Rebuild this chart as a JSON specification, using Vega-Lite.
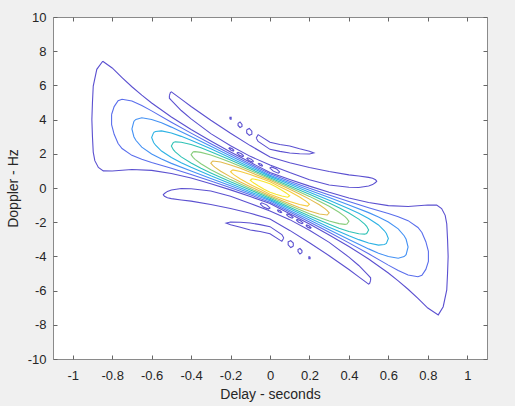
{
"$schema":"https://vega.github.io/schema/vega-lite/v6.json",
"width":434,"height":342,
"autosize":{"type":"none"},
"padding":{"left":53,"top":17,"right":28,"bottom":47},
"background":"#f0f0f0",
"config":{"view":{"fill":"white","stroke":"#8a8a8a","strokeWidth":1},"font":"Liberation Sans"},
"data":{"values":[
{"c":"m1","l":1,"x":-0.848,"y":7.41},{"c":"m1","l":1,"x":-0.8,"y":7.02},{"c":"m1","l":1,"x":-0.75,"y":6.46},{"c":"m1","l":1,"x":-0.7,"y":5.92},{"c":"m1","l":1,"x":-0.65,"y":5.43},{"c":"m1","l":1,"x":-0.6,"y":4.97},{"c":"m1","l":1,"x":-0.5,"y":4.15},{"c":"m1","l":1,"x":-0.4,"y":3.42},{"c":"m1","l":1,"x":-0.3,"y":2.75},{"c":"m1","l":1,"x":-0.2,"y":2.11},{"c":"m1","l":1,"x":-0.1,"y":1.5},{"c":"m1","l":1,"x":0,"y":0.91},{"c":"m1","l":1,"x":0.1,"y":0.5},{"c":"m1","l":1,"x":0.2,"y":0.11},{"c":"m1","l":1,"x":0.3,"y":-0.25},{"c":"m1","l":1,"x":0.4,"y":-0.58},{"c":"m1","l":1,"x":0.5,"y":-0.85},{"c":"m1","l":1,"x":0.6,"y":-1.03},{"c":"m1","l":1,"x":0.7,"y":-1.08},{"c":"m1","l":1,"x":0.8,"y":-0.99},{"c":"m1","l":1,"x":0.845,"y":-1.0},{"c":"m1","l":1,"x":0.87,"y":-1.2},{"c":"m1","l":1,"x":0.888,"y":-1.6},{"c":"m1","l":1,"x":0.896,"y":-2.1},{"c":"m1","l":1,"x":0.9,"y":-3.0},{"c":"m1","l":1,"x":0.903,"y":-4.0},{"c":"m1","l":1,"x":0.9,"y":-5.0},{"c":"m1","l":1,"x":0.896,"y":-5.96},{"c":"m1","l":1,"x":0.878,"y":-6.94},{"c":"m1","l":1,"x":0.853,"y":-7.42},{"c":"m1","l":1,"x":0.8,"y":-7.02},{"c":"m1","l":1,"x":0.75,"y":-6.46},{"c":"m1","l":1,"x":0.7,"y":-5.92},{"c":"m1","l":1,"x":0.65,"y":-5.43},{"c":"m1","l":1,"x":0.6,"y":-4.97},{"c":"m1","l":1,"x":0.5,"y":-4.15},{"c":"m1","l":1,"x":0.4,"y":-3.42},{"c":"m1","l":1,"x":0.3,"y":-2.75},{"c":"m1","l":1,"x":0.2,"y":-2.11},{"c":"m1","l":1,"x":0.1,"y":-1.5},{"c":"m1","l":1,"x":0,"y":-0.91},{"c":"m1","l":1,"x":-0.1,"y":-0.5},{"c":"m1","l":1,"x":-0.2,"y":-0.11},{"c":"m1","l":1,"x":-0.3,"y":0.25},{"c":"m1","l":1,"x":-0.4,"y":0.58},{"c":"m1","l":1,"x":-0.5,"y":0.85},{"c":"m1","l":1,"x":-0.6,"y":1.03},{"c":"m1","l":1,"x":-0.7,"y":1.08},{"c":"m1","l":1,"x":-0.8,"y":0.99},{"c":"m1","l":1,"x":-0.845,"y":1.0},{"c":"m1","l":1,"x":-0.87,"y":1.2},{"c":"m1","l":1,"x":-0.888,"y":1.6},{"c":"m1","l":1,"x":-0.896,"y":2.1},{"c":"m1","l":1,"x":-0.9,"y":3.0},{"c":"m1","l":1,"x":-0.903,"y":4.0},{"c":"m1","l":1,"x":-0.9,"y":5.0},{"c":"m1","l":1,"x":-0.896,"y":5.96},{"c":"m1","l":1,"x":-0.878,"y":6.94},{"c":"m1","l":1,"x":-0.848,"y":7.41},
{"c":"m2","l":2,"x":-0.803,"y":4.3},{"c":"m2","l":2,"x":-0.79,"y":4.76},{"c":"m2","l":2,"x":-0.77,"y":5.1},{"c":"m2","l":2,"x":-0.75,"y":5.19},{"c":"m2","l":2,"x":-0.7,"y":5.09},{"c":"m2","l":2,"x":-0.65,"y":4.82},{"c":"m2","l":2,"x":-0.6,"y":4.51},{"c":"m2","l":2,"x":-0.5,"y":3.85},{"c":"m2","l":2,"x":-0.4,"y":3.21},{"c":"m2","l":2,"x":-0.3,"y":2.59},{"c":"m2","l":2,"x":-0.2,"y":1.99},{"c":"m2","l":2,"x":-0.1,"y":1.4},{"c":"m2","l":2,"x":0,"y":0.83},{"c":"m2","l":2,"x":0.1,"y":0.4},{"c":"m2","l":2,"x":0.2,"y":-0.02},{"c":"m2","l":2,"x":0.3,"y":-0.41},{"c":"m2","l":2,"x":0.4,"y":-0.79},{"c":"m2","l":2,"x":0.5,"y":-1.15},{"c":"m2","l":2,"x":0.6,"y":-1.49},{"c":"m2","l":2,"x":0.65,"y":-1.68},{"c":"m2","l":2,"x":0.7,"y":-1.91},{"c":"m2","l":2,"x":0.75,"y":-2.31},{"c":"m2","l":2,"x":0.77,"y":-2.6},{"c":"m2","l":2,"x":0.79,"y":-3.14},{"c":"m2","l":2,"x":0.803,"y":-3.7},{"c":"m2","l":2,"x":0.803,"y":-4.3},{"c":"m2","l":2,"x":0.79,"y":-4.76},{"c":"m2","l":2,"x":0.77,"y":-5.1},{"c":"m2","l":2,"x":0.75,"y":-5.19},{"c":"m2","l":2,"x":0.7,"y":-5.09},{"c":"m2","l":2,"x":0.65,"y":-4.82},{"c":"m2","l":2,"x":0.6,"y":-4.51},{"c":"m2","l":2,"x":0.5,"y":-3.85},{"c":"m2","l":2,"x":0.4,"y":-3.21},{"c":"m2","l":2,"x":0.3,"y":-2.59},{"c":"m2","l":2,"x":0.2,"y":-1.99},{"c":"m2","l":2,"x":0.1,"y":-1.4},{"c":"m2","l":2,"x":0,"y":-0.83},{"c":"m2","l":2,"x":-0.1,"y":-0.4},{"c":"m2","l":2,"x":-0.2,"y":0.02},{"c":"m2","l":2,"x":-0.3,"y":0.41},{"c":"m2","l":2,"x":-0.4,"y":0.79},{"c":"m2","l":2,"x":-0.5,"y":1.15},{"c":"m2","l":2,"x":-0.6,"y":1.49},{"c":"m2","l":2,"x":-0.65,"y":1.68},{"c":"m2","l":2,"x":-0.7,"y":1.91},{"c":"m2","l":2,"x":-0.75,"y":2.31},{"c":"m2","l":2,"x":-0.77,"y":2.6},{"c":"m2","l":2,"x":-0.79,"y":3.14},{"c":"m2","l":2,"x":-0.803,"y":3.7},{"c":"m2","l":2,"x":-0.803,"y":4.3},
{"c":"m3","l":3,"x":-0.69,"y":3.9},{"c":"m3","l":3,"x":-0.68,"y":4.01},{"c":"m3","l":3,"x":-0.65,"y":4.11},{"c":"m3","l":3,"x":-0.6,"y":4.01},{"c":"m3","l":3,"x":-0.55,"y":3.81},{"c":"m3","l":3,"x":-0.5,"y":3.56},{"c":"m3","l":3,"x":-0.4,"y":3.01},{"c":"m3","l":3,"x":-0.3,"y":2.44},{"c":"m3","l":3,"x":-0.2,"y":1.87},{"c":"m3","l":3,"x":-0.1,"y":1.31},{"c":"m3","l":3,"x":0,"y":0.75},{"c":"m3","l":3,"x":0.1,"y":0.31},{"c":"m3","l":3,"x":0.2,"y":-0.13},{"c":"m3","l":3,"x":0.3,"y":-0.56},{"c":"m3","l":3,"x":0.4,"y":-0.99},{"c":"m3","l":3,"x":0.5,"y":-1.44},{"c":"m3","l":3,"x":0.55,"y":-1.69},{"c":"m3","l":3,"x":0.6,"y":-1.99},{"c":"m3","l":3,"x":0.65,"y":-2.39},{"c":"m3","l":3,"x":0.68,"y":-2.79},{"c":"m3","l":3,"x":0.69,"y":-3.0},{"c":"m3","l":3,"x":0.7,"y":-3.45},{"c":"m3","l":3,"x":0.69,"y":-3.9},{"c":"m3","l":3,"x":0.68,"y":-4.01},{"c":"m3","l":3,"x":0.65,"y":-4.11},{"c":"m3","l":3,"x":0.6,"y":-4.01},{"c":"m3","l":3,"x":0.55,"y":-3.81},{"c":"m3","l":3,"x":0.5,"y":-3.56},{"c":"m3","l":3,"x":0.4,"y":-3.01},{"c":"m3","l":3,"x":0.3,"y":-2.44},{"c":"m3","l":3,"x":0.2,"y":-1.87},{"c":"m3","l":3,"x":0.1,"y":-1.31},{"c":"m3","l":3,"x":0,"y":-0.75},{"c":"m3","l":3,"x":-0.1,"y":-0.31},{"c":"m3","l":3,"x":-0.2,"y":0.13},{"c":"m3","l":3,"x":-0.3,"y":0.56},{"c":"m3","l":3,"x":-0.4,"y":0.99},{"c":"m3","l":3,"x":-0.5,"y":1.44},{"c":"m3","l":3,"x":-0.55,"y":1.69},{"c":"m3","l":3,"x":-0.6,"y":1.99},{"c":"m3","l":3,"x":-0.65,"y":2.39},{"c":"m3","l":3,"x":-0.68,"y":2.79},{"c":"m3","l":3,"x":-0.69,"y":3.0},{"c":"m3","l":3,"x":-0.7,"y":3.45},{"c":"m3","l":3,"x":-0.69,"y":3.9},
{"c":"m4","l":4,"x":-0.59,"y":3.24},{"c":"m4","l":4,"x":-0.58,"y":3.3},{"c":"m4","l":4,"x":-0.55,"y":3.34},{"c":"m4","l":4,"x":-0.5,"y":3.22},{"c":"m4","l":4,"x":-0.45,"y":3.02},{"c":"m4","l":4,"x":-0.4,"y":2.79},{"c":"m4","l":4,"x":-0.3,"y":2.29},{"c":"m4","l":4,"x":-0.2,"y":1.75},{"c":"m4","l":4,"x":-0.1,"y":1.22},{"c":"m4","l":4,"x":0,"y":0.68},{"c":"m4","l":4,"x":0.1,"y":0.22},{"c":"m4","l":4,"x":0.2,"y":-0.25},{"c":"m4","l":4,"x":0.3,"y":-0.71},{"c":"m4","l":4,"x":0.4,"y":-1.21},{"c":"m4","l":4,"x":0.45,"y":-1.48},{"c":"m4","l":4,"x":0.5,"y":-1.78},{"c":"m4","l":4,"x":0.55,"y":-2.16},{"c":"m4","l":4,"x":0.58,"y":-2.5},{"c":"m4","l":4,"x":0.59,"y":-2.66},{"c":"m4","l":4,"x":0.6,"y":-2.95},{"c":"m4","l":4,"x":0.59,"y":-3.24},{"c":"m4","l":4,"x":0.58,"y":-3.3},{"c":"m4","l":4,"x":0.55,"y":-3.34},{"c":"m4","l":4,"x":0.5,"y":-3.22},{"c":"m4","l":4,"x":0.45,"y":-3.02},{"c":"m4","l":4,"x":0.4,"y":-2.79},{"c":"m4","l":4,"x":0.3,"y":-2.29},{"c":"m4","l":4,"x":0.2,"y":-1.75},{"c":"m4","l":4,"x":0.1,"y":-1.22},{"c":"m4","l":4,"x":0,"y":-0.68},{"c":"m4","l":4,"x":-0.1,"y":-0.22},{"c":"m4","l":4,"x":-0.2,"y":0.25},{"c":"m4","l":4,"x":-0.3,"y":0.71},{"c":"m4","l":4,"x":-0.4,"y":1.21},{"c":"m4","l":4,"x":-0.45,"y":1.48},{"c":"m4","l":4,"x":-0.5,"y":1.78},{"c":"m4","l":4,"x":-0.55,"y":2.16},{"c":"m4","l":4,"x":-0.58,"y":2.5},{"c":"m4","l":4,"x":-0.59,"y":2.66},{"c":"m4","l":4,"x":-0.6,"y":2.95},{"c":"m4","l":4,"x":-0.59,"y":3.24},
{"c":"m5","l":5,"x":-0.49,"y":2.66},{"c":"m5","l":5,"x":-0.48,"y":2.7},{"c":"m5","l":5,"x":-0.45,"y":2.68},{"c":"m5","l":5,"x":-0.4,"y":2.54},{"c":"m5","l":5,"x":-0.35,"y":2.35},{"c":"m5","l":5,"x":-0.3,"y":2.12},{"c":"m5","l":5,"x":-0.2,"y":1.64},{"c":"m5","l":5,"x":-0.1,"y":1.12},{"c":"m5","l":5,"x":0,"y":0.6},{"c":"m5","l":5,"x":0.1,"y":0.12},{"c":"m5","l":5,"x":0.2,"y":-0.36},{"c":"m5","l":5,"x":0.3,"y":-0.88},{"c":"m5","l":5,"x":0.35,"y":-1.15},{"c":"m5","l":5,"x":0.4,"y":-1.46},{"c":"m5","l":5,"x":0.45,"y":-1.82},{"c":"m5","l":5,"x":0.48,"y":-2.11},{"c":"m5","l":5,"x":0.49,"y":-2.24},{"c":"m5","l":5,"x":0.5,"y":-2.45},{"c":"m5","l":5,"x":0.49,"y":-2.66},{"c":"m5","l":5,"x":0.48,"y":-2.7},{"c":"m5","l":5,"x":0.45,"y":-2.68},{"c":"m5","l":5,"x":0.4,"y":-2.54},{"c":"m5","l":5,"x":0.35,"y":-2.35},{"c":"m5","l":5,"x":0.3,"y":-2.12},{"c":"m5","l":5,"x":0.2,"y":-1.64},{"c":"m5","l":5,"x":0.1,"y":-1.12},{"c":"m5","l":5,"x":0,"y":-0.6},{"c":"m5","l":5,"x":-0.1,"y":-0.12},{"c":"m5","l":5,"x":-0.2,"y":0.36},{"c":"m5","l":5,"x":-0.3,"y":0.88},{"c":"m5","l":5,"x":-0.35,"y":1.15},{"c":"m5","l":5,"x":-0.4,"y":1.46},{"c":"m5","l":5,"x":-0.45,"y":1.82},{"c":"m5","l":5,"x":-0.48,"y":2.11},{"c":"m5","l":5,"x":-0.49,"y":2.24},{"c":"m5","l":5,"x":-0.5,"y":2.45},{"c":"m5","l":5,"x":-0.49,"y":2.66},
{"c":"m6","l":6,"x":-0.39,"y":2.11},{"c":"m6","l":6,"x":-0.38,"y":2.125},{"c":"m6","l":6,"x":-0.35,"y":2.085},{"c":"m6","l":6,"x":-0.3,"y":1.93},{"c":"m6","l":6,"x":-0.25,"y":1.73},{"c":"m6","l":6,"x":-0.2,"y":1.51},{"c":"m6","l":6,"x":-0.1,"y":1.03},{"c":"m6","l":6,"x":0,"y":0.53},{"c":"m6","l":6,"x":0.1,"y":0.03},{"c":"m6","l":6,"x":0.2,"y":-0.49},{"c":"m6","l":6,"x":0.25,"y":-0.77},{"c":"m6","l":6,"x":0.3,"y":-1.07},{"c":"m6","l":6,"x":0.35,"y":-1.415},{"c":"m6","l":6,"x":0.38,"y":-1.675},{"c":"m6","l":6,"x":0.39,"y":-1.79},{"c":"m6","l":6,"x":0.4,"y":-1.95},{"c":"m6","l":6,"x":0.39,"y":-2.11},{"c":"m6","l":6,"x":0.38,"y":-2.125},{"c":"m6","l":6,"x":0.35,"y":-2.085},{"c":"m6","l":6,"x":0.3,"y":-1.93},{"c":"m6","l":6,"x":0.25,"y":-1.73},{"c":"m6","l":6,"x":0.2,"y":-1.51},{"c":"m6","l":6,"x":0.1,"y":-1.03},{"c":"m6","l":6,"x":0,"y":-0.53},{"c":"m6","l":6,"x":-0.1,"y":-0.03},{"c":"m6","l":6,"x":-0.2,"y":0.49},{"c":"m6","l":6,"x":-0.25,"y":0.77},{"c":"m6","l":6,"x":-0.3,"y":1.07},{"c":"m6","l":6,"x":-0.35,"y":1.415},{"c":"m6","l":6,"x":-0.38,"y":1.675},{"c":"m6","l":6,"x":-0.39,"y":1.79},{"c":"m6","l":6,"x":-0.4,"y":1.95},{"c":"m6","l":6,"x":-0.39,"y":2.11},
{"c":"m7","l":7,"x":-0.29,"y":1.58},{"c":"m7","l":7,"x":-0.25,"y":1.52},{"c":"m7","l":7,"x":-0.2,"y":1.35},{"c":"m7","l":7,"x":-0.15,"y":1.15},{"c":"m7","l":7,"x":-0.1,"y":0.92},{"c":"m7","l":7,"x":0,"y":0.45},{"c":"m7","l":7,"x":0.1,"y":-0.08},{"c":"m7","l":7,"x":0.15,"y":-0.35},{"c":"m7","l":7,"x":0.2,"y":-0.65},{"c":"m7","l":7,"x":0.25,"y":-0.98},{"c":"m7","l":7,"x":0.28,"y":-1.22},{"c":"m7","l":7,"x":0.29,"y":-1.32},{"c":"m7","l":7,"x":0.3,"y":-1.45},{"c":"m7","l":7,"x":0.29,"y":-1.58},{"c":"m7","l":7,"x":0.25,"y":-1.52},{"c":"m7","l":7,"x":0.2,"y":-1.35},{"c":"m7","l":7,"x":0.15,"y":-1.15},{"c":"m7","l":7,"x":0.1,"y":-0.92},{"c":"m7","l":7,"x":0,"y":-0.45},{"c":"m7","l":7,"x":-0.1,"y":0.08},{"c":"m7","l":7,"x":-0.15,"y":0.35},{"c":"m7","l":7,"x":-0.2,"y":0.65},{"c":"m7","l":7,"x":-0.25,"y":0.98},{"c":"m7","l":7,"x":-0.28,"y":1.22},{"c":"m7","l":7,"x":-0.29,"y":1.32},{"c":"m7","l":7,"x":-0.3,"y":1.45},{"c":"m7","l":7,"x":-0.29,"y":1.58},
{"c":"m8","l":8,"x":-0.19,"y":1.06},{"c":"m8","l":8,"x":-0.15,"y":0.97},{"c":"m8","l":8,"x":-0.1,"y":0.79},{"c":"m8","l":8,"x":-0.05,"y":0.58},{"c":"m8","l":8,"x":0,"y":0.36},{"c":"m8","l":8,"x":0.05,"y":0.08},{"c":"m8","l":8,"x":0.1,"y":-0.21},{"c":"m8","l":8,"x":0.15,"y":-0.53},{"c":"m8","l":8,"x":0.18,"y":-0.75},{"c":"m8","l":8,"x":0.19,"y":-0.84},{"c":"m8","l":8,"x":0.2,"y":-0.95},{"c":"m8","l":8,"x":0.19,"y":-1.06},{"c":"m8","l":8,"x":0.15,"y":-0.97},{"c":"m8","l":8,"x":0.1,"y":-0.79},{"c":"m8","l":8,"x":0.05,"y":-0.58},{"c":"m8","l":8,"x":0,"y":-0.36},{"c":"m8","l":8,"x":-0.05,"y":-0.08},{"c":"m8","l":8,"x":-0.1,"y":0.21},{"c":"m8","l":8,"x":-0.15,"y":0.53},{"c":"m8","l":8,"x":-0.18,"y":0.75},{"c":"m8","l":8,"x":-0.19,"y":0.84},{"c":"m8","l":8,"x":-0.2,"y":0.95},{"c":"m8","l":8,"x":-0.19,"y":1.06},
{"c":"m9","l":9,"x":-0.09,"y":0.54},{"c":"m9","l":9,"x":-0.06,"y":0.47},{"c":"m9","l":9,"x":-0.03,"y":0.37},{"c":"m9","l":9,"x":0,"y":0.25},{"c":"m9","l":9,"x":0.03,"y":0.07},{"c":"m9","l":9,"x":0.06,"y":-0.13},{"c":"m9","l":9,"x":0.08,"y":-0.28},{"c":"m9","l":9,"x":0.09,"y":-0.36},{"c":"m9","l":9,"x":0.1,"y":-0.45},{"c":"m9","l":9,"x":0.09,"y":-0.54},{"c":"m9","l":9,"x":0.06,"y":-0.47},{"c":"m9","l":9,"x":0.03,"y":-0.37},{"c":"m9","l":9,"x":0,"y":-0.25},{"c":"m9","l":9,"x":-0.03,"y":-0.07},{"c":"m9","l":9,"x":-0.06,"y":0.13},{"c":"m9","l":9,"x":-0.08,"y":0.28},{"c":"m9","l":9,"x":-0.09,"y":0.36},{"c":"m9","l":9,"x":-0.1,"y":0.45},{"c":"m9","l":9,"x":-0.09,"y":0.54},
{"c":"s1u","l":1,"x":-0.51,"y":5.4},{"c":"s1u","l":1,"x":-0.505,"y":5.58},{"c":"s1u","l":1,"x":-0.5,"y":5.62},{"c":"s1u","l":1,"x":-0.45,"y":5.2},{"c":"s1u","l":1,"x":-0.4,"y":4.77},{"c":"s1u","l":1,"x":-0.3,"y":3.96},{"c":"s1u","l":1,"x":-0.2,"y":3.2},{"c":"s1u","l":1,"x":-0.1,"y":2.48},{"c":"s1u","l":1,"x":0,"y":1.81},{"c":"s1u","l":1,"x":0.1,"y":1.48},{"c":"s1u","l":1,"x":0.2,"y":1.2},{"c":"s1u","l":1,"x":0.3,"y":0.96},{"c":"s1u","l":1,"x":0.4,"y":0.77},{"c":"s1u","l":1,"x":0.45,"y":0.7},{"c":"s1u","l":1,"x":0.5,"y":0.62},{"c":"s1u","l":1,"x":0.52,"y":0.57},{"c":"s1u","l":1,"x":0.535,"y":0.48},{"c":"s1u","l":1,"x":0.541,"y":0.4},{"c":"s1u","l":1,"x":0.535,"y":0.32},{"c":"s1u","l":1,"x":0.52,"y":0.2},{"c":"s1u","l":1,"x":0.5,"y":0.12},{"c":"s1u","l":1,"x":0.45,"y":0.03},{"c":"s1u","l":1,"x":0.4,"y":0.04},{"c":"s1u","l":1,"x":0.3,"y":0.18},{"c":"s1u","l":1,"x":0.2,"y":0.48},{"c":"s1u","l":1,"x":0.1,"y":0.9},{"c":"s1u","l":1,"x":0,"y":1.35},{"c":"s1u","l":1,"x":-0.1,"y":1.85},{"c":"s1u","l":1,"x":-0.2,"y":2.47},{"c":"s1u","l":1,"x":-0.3,"y":3.18},{"c":"s1u","l":1,"x":-0.4,"y":4.04},{"c":"s1u","l":1,"x":-0.45,"y":4.53},{"c":"s1u","l":1,"x":-0.5,"y":5.12},{"c":"s1u","l":1,"x":-0.51,"y":5.25},{"c":"s1u","l":1,"x":-0.51,"y":5.4},
{"c":"s1l","l":1,"x":0.51,"y":-5.4},{"c":"s1l","l":1,"x":0.505,"y":-5.58},{"c":"s1l","l":1,"x":0.5,"y":-5.62},{"c":"s1l","l":1,"x":0.45,"y":-5.2},{"c":"s1l","l":1,"x":0.4,"y":-4.77},{"c":"s1l","l":1,"x":0.3,"y":-3.96},{"c":"s1l","l":1,"x":0.2,"y":-3.2},{"c":"s1l","l":1,"x":0.1,"y":-2.48},{"c":"s1l","l":1,"x":0,"y":-1.81},{"c":"s1l","l":1,"x":-0.1,"y":-1.48},{"c":"s1l","l":1,"x":-0.2,"y":-1.2},{"c":"s1l","l":1,"x":-0.3,"y":-0.96},{"c":"s1l","l":1,"x":-0.4,"y":-0.77},{"c":"s1l","l":1,"x":-0.45,"y":-0.7},{"c":"s1l","l":1,"x":-0.5,"y":-0.62},{"c":"s1l","l":1,"x":-0.52,"y":-0.57},{"c":"s1l","l":1,"x":-0.535,"y":-0.48},{"c":"s1l","l":1,"x":-0.541,"y":-0.4},{"c":"s1l","l":1,"x":-0.535,"y":-0.32},{"c":"s1l","l":1,"x":-0.52,"y":-0.2},{"c":"s1l","l":1,"x":-0.5,"y":-0.12},{"c":"s1l","l":1,"x":-0.45,"y":-0.03},{"c":"s1l","l":1,"x":-0.4,"y":-0.04},{"c":"s1l","l":1,"x":-0.3,"y":-0.18},{"c":"s1l","l":1,"x":-0.2,"y":-0.48},{"c":"s1l","l":1,"x":-0.1,"y":-0.9},{"c":"s1l","l":1,"x":0,"y":-1.35},{"c":"s1l","l":1,"x":0.1,"y":-1.85},{"c":"s1l","l":1,"x":0.2,"y":-2.47},{"c":"s1l","l":1,"x":0.3,"y":-3.18},{"c":"s1l","l":1,"x":0.4,"y":-4.04},{"c":"s1l","l":1,"x":0.45,"y":-4.53},{"c":"s1l","l":1,"x":0.5,"y":-5.12},{"c":"s1l","l":1,"x":0.51,"y":-5.25},{"c":"s1l","l":1,"x":0.51,"y":-5.4},
{"c":"s2u","l":1,"x":-0.07,"y":2.92},{"c":"s2u","l":1,"x":-0.06,"y":3.12},{"c":"s2u","l":1,"x":0,"y":2.68},{"c":"s2u","l":1,"x":0.05,"y":2.54},{"c":"s2u","l":1,"x":0.1,"y":2.46},{"c":"s2u","l":1,"x":0.15,"y":2.29},{"c":"s2u","l":1,"x":0.2,"y":2.15},{"c":"s2u","l":1,"x":0.222,"y":2.05},{"c":"s2u","l":1,"x":0.2,"y":1.99},{"c":"s2u","l":1,"x":0.15,"y":2.0},{"c":"s2u","l":1,"x":0.1,"y":2.05},{"c":"s2u","l":1,"x":0.05,"y":2.14},{"c":"s2u","l":1,"x":0,"y":2.26},{"c":"s2u","l":1,"x":-0.06,"y":2.72},{"c":"s2u","l":1,"x":-0.07,"y":2.92},
{"c":"s2l","l":1,"x":0.07,"y":-2.92},{"c":"s2l","l":1,"x":0.06,"y":-3.12},{"c":"s2l","l":1,"x":0,"y":-2.68},{"c":"s2l","l":1,"x":-0.05,"y":-2.54},{"c":"s2l","l":1,"x":-0.1,"y":-2.46},{"c":"s2l","l":1,"x":-0.15,"y":-2.29},{"c":"s2l","l":1,"x":-0.2,"y":-2.15},{"c":"s2l","l":1,"x":-0.222,"y":-2.05},{"c":"s2l","l":1,"x":-0.2,"y":-1.99},{"c":"s2l","l":1,"x":-0.15,"y":-2.0},{"c":"s2l","l":1,"x":-0.1,"y":-2.05},{"c":"s2l","l":1,"x":-0.05,"y":-2.14},{"c":"s2l","l":1,"x":0,"y":-2.26},{"c":"s2l","l":1,"x":0.06,"y":-2.72},{"c":"s2l","l":1,"x":0.07,"y":-2.92},
{"c":"d1","l":1,"x":-0.203,"y":4.02},{"c":"d1","l":1,"x":-0.197,"y":4.02},{"c":"d1","l":1,"x":-0.197,"y":4.14},{"c":"d1","l":1,"x":-0.203,"y":4.14},{"c":"d1","l":1,"x":-0.203,"y":4.02},
{"c":"d2","l":1,"x":-0.162,"y":3.78},{"c":"d2","l":1,"x":-0.152,"y":3.86},{"c":"d2","l":1,"x":-0.142,"y":3.72},{"c":"d2","l":1,"x":-0.142,"y":3.6},{"c":"d2","l":1,"x":-0.152,"y":3.54},{"c":"d2","l":1,"x":-0.162,"y":3.66},{"c":"d2","l":1,"x":-0.162,"y":3.78},
{"c":"d3","l":1,"x":-0.118,"y":3.4},{"c":"d3","l":1,"x":-0.105,"y":3.48},{"c":"d3","l":1,"x":-0.092,"y":3.32},{"c":"d3","l":1,"x":-0.092,"y":3.15},{"c":"d3","l":1,"x":-0.105,"y":3.08},{"c":"d3","l":1,"x":-0.118,"y":3.22},{"c":"d3","l":1,"x":-0.118,"y":3.4},
{"c":"d4","l":1,"x":0.203,"y":-4.02},{"c":"d4","l":1,"x":0.197,"y":-4.02},{"c":"d4","l":1,"x":0.197,"y":-4.14},{"c":"d4","l":1,"x":0.203,"y":-4.14},{"c":"d4","l":1,"x":0.203,"y":-4.02},
{"c":"d5","l":1,"x":0.162,"y":-3.78},{"c":"d5","l":1,"x":0.152,"y":-3.86},{"c":"d5","l":1,"x":0.142,"y":-3.72},{"c":"d5","l":1,"x":0.142,"y":-3.6},{"c":"d5","l":1,"x":0.152,"y":-3.54},{"c":"d5","l":1,"x":0.162,"y":-3.66},{"c":"d5","l":1,"x":0.162,"y":-3.78},
{"c":"d6","l":1,"x":0.118,"y":-3.4},{"c":"d6","l":1,"x":0.105,"y":-3.48},{"c":"d6","l":1,"x":0.092,"y":-3.32},{"c":"d6","l":1,"x":0.092,"y":-3.15},{"c":"d6","l":1,"x":0.105,"y":-3.08},{"c":"d6","l":1,"x":0.118,"y":-3.22},{"c":"d6","l":1,"x":0.118,"y":-3.4},
{"c":"e1","l":1,"x":-0.182,"y":2.197},{"c":"e1","l":1,"x":-0.191,"y":2.294},{"c":"e1","l":1,"x":-0.204,"y":2.357},{"c":"e1","l":1,"x":-0.208,"y":2.323},{"c":"e1","l":1,"x":-0.199,"y":2.226},{"c":"e1","l":1,"x":-0.186,"y":2.163},{"c":"e1","l":1,"x":-0.182,"y":2.197},
{"c":"e2","l":1,"x":-0.133,"y":1.879},{"c":"e2","l":1,"x":-0.145,"y":2.004},{"c":"e2","l":1,"x":-0.162,"y":2.085},{"c":"e2","l":1,"x":-0.167,"y":2.041},{"c":"e2","l":1,"x":-0.155,"y":1.916},{"c":"e2","l":1,"x":-0.138,"y":1.835},{"c":"e2","l":1,"x":-0.133,"y":1.879},
{"c":"e3","l":1,"x":-0.083,"y":1.559},{"c":"e3","l":1,"x":-0.095,"y":1.684},{"c":"e3","l":1,"x":-0.112,"y":1.765},{"c":"e3","l":1,"x":-0.117,"y":1.721},{"c":"e3","l":1,"x":-0.105,"y":1.596},{"c":"e3","l":1,"x":-0.088,"y":1.515},{"c":"e3","l":1,"x":-0.083,"y":1.559},
{"c":"e4","l":1,"x":-0.037,"y":1.306},{"c":"e4","l":1,"x":-0.044,"y":1.389},{"c":"e4","l":1,"x":-0.056,"y":1.443},{"c":"e4","l":1,"x":-0.059,"y":1.414},{"c":"e4","l":1,"x":-0.052,"y":1.331},{"c":"e4","l":1,"x":-0.04,"y":1.277},{"c":"e4","l":1,"x":-0.037,"y":1.306},
{"c":"e5","l":1,"x":0.05,"y":0.933},{"c":"e5","l":1,"x":0.033,"y":1.114},{"c":"e5","l":1,"x":0.008,"y":1.231},{"c":"e5","l":1,"x":0,"y":1.167},{"c":"e5","l":1,"x":0.017,"y":0.986},{"c":"e5","l":1,"x":0.042,"y":0.869},{"c":"e5","l":1,"x":0.05,"y":0.933},
{"c":"f1","l":1,"x":0.182,"y":-2.197},{"c":"f1","l":1,"x":0.191,"y":-2.294},{"c":"f1","l":1,"x":0.204,"y":-2.357},{"c":"f1","l":1,"x":0.208,"y":-2.323},{"c":"f1","l":1,"x":0.199,"y":-2.226},{"c":"f1","l":1,"x":0.186,"y":-2.163},{"c":"f1","l":1,"x":0.182,"y":-2.197},
{"c":"f2","l":1,"x":0.133,"y":-1.879},{"c":"f2","l":1,"x":0.145,"y":-2.004},{"c":"f2","l":1,"x":0.162,"y":-2.085},{"c":"f2","l":1,"x":0.167,"y":-2.041},{"c":"f2","l":1,"x":0.155,"y":-1.916},{"c":"f2","l":1,"x":0.138,"y":-1.835},{"c":"f2","l":1,"x":0.133,"y":-1.879},
{"c":"f3","l":1,"x":0.083,"y":-1.559},{"c":"f3","l":1,"x":0.095,"y":-1.684},{"c":"f3","l":1,"x":0.112,"y":-1.765},{"c":"f3","l":1,"x":0.117,"y":-1.721},{"c":"f3","l":1,"x":0.105,"y":-1.596},{"c":"f3","l":1,"x":0.088,"y":-1.515},{"c":"f3","l":1,"x":0.083,"y":-1.559},
{"c":"f4","l":1,"x":0.037,"y":-1.306},{"c":"f4","l":1,"x":0.044,"y":-1.389},{"c":"f4","l":1,"x":0.056,"y":-1.443},{"c":"f4","l":1,"x":0.059,"y":-1.414},{"c":"f4","l":1,"x":0.052,"y":-1.331},{"c":"f4","l":1,"x":0.04,"y":-1.277},{"c":"f4","l":1,"x":0.037,"y":-1.306},
{"c":"f5","l":1,"x":-0.05,"y":-0.933},{"c":"f5","l":1,"x":-0.033,"y":-1.114},{"c":"f5","l":1,"x":-0.008,"y":-1.231},{"c":"f5","l":1,"x":0,"y":-1.167},{"c":"f5","l":1,"x":-0.017,"y":-0.986},{"c":"f5","l":1,"x":-0.042,"y":-0.869},{"c":"f5","l":1,"x":-0.05,"y":-0.933}
]},
"layer":[
{"mark":{"type":"line","strokeWidth":1.1,"clip":true},
 "encoding":{
  "x":{"field":"x","type":"quantitative","scale":{"domain":[-1.1,1.1],"nice":false,"zero":false},
       "axis":{"orient":"bottom","values":[-1,-0.8,-0.6,-0.4,-0.2,0,0.2,0.4,0.6,0.8,1],"format":"~f","title":"Delay - seconds","titleFontSize":14,"titleFontWeight":"normal","titleColor":"#262626","titlePadding":5,"labelFontSize":13,"labelColor":"#262626","labelPadding":14,"tickSize":-4,"tickColor":"#666666","domain":false,"grid":false,"labelFlush":false,"labelOverlap":false,"labelExpr":"replace(datum.label,'−','-')"}},
  "y":{"field":"y","type":"quantitative","scale":{"domain":[-10,10],"nice":false,"zero":false},
       "axis":{"orient":"left","values":[-10,-8,-6,-4,-2,0,2,4,6,8,10],"title":"Doppler - Hz","titleFontSize":14,"titleFontWeight":"normal","titleColor":"#262626","titlePadding":7,"labelFontSize":13,"labelColor":"#262626","labelPadding":11,"tickSize":-4,"tickColor":"#666666","domain":false,"grid":false,"labelFlush":false,"labelOverlap":false,"labelExpr":"replace(datum.label,'−','-')"}},
  "color":{"field":"l","type":"ordinal","scale":{"domain":[1,2,3,4,5,6,7,8,9],"range":["#5b50d0","#5a6eec","#4592f4","#2db2e4","#2fc2b6","#88cd7c","#e2bb4e","#f5cb40","#f7e630"]},"legend":null},
  "detail":{"field":"c"},
  "order":{"value":null}
 }},
{"mark":{"type":"point","opacity":0},
 "encoding":{
  "x":{"field":"x","type":"quantitative","axis":{"orient":"top","values":[-1,-0.8,-0.6,-0.4,-0.2,0,0.2,0.4,0.6,0.8,1],"labels":false,"title":null,"tickSize":-4,"tickColor":"#666666","domain":false,"grid":false}},
  "y":{"field":"y","type":"quantitative","axis":{"orient":"right","values":[-10,-8,-6,-4,-2,0,2,4,6,8,10],"labels":false,"title":null,"tickSize":-4,"tickColor":"#666666","domain":false,"grid":false}}
 }}
],
"resolve":{"axis":{"x":"independent","y":"independent"}}
}
